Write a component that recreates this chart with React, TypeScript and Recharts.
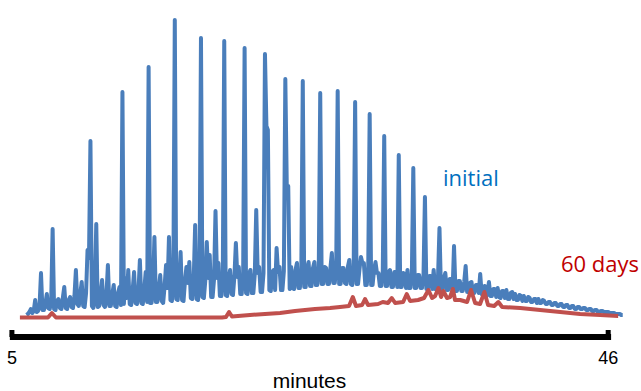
import { LineChart, Line, XAxis, YAxis, ReferenceLine } from 'recharts'

// chromatogram, initial run, sampled every 0.1 min from 6 min
const START = 6
const STEP = 0.1
const initialSignal = [
  3, 4, 6, 9, 5, 7, 18, 6, 7, 12, 45, 8, 8, 14, 24, 10, 9, 16, 89, 9,
  8, 17, 19, 10, 9, 20, 31, 10, 9, 18, 21, 11, 10, 22, 48, 14, 12, 24, 36, 12,
  11, 25, 68, 60, 177, 12, 10, 22, 94, 11, 12, 24, 38, 13, 11, 23, 53, 12, 12, 24,
  33, 12, 11, 25, 31, 13, 226, 14, 40, 20, 48, 14, 13, 27, 46, 15, 14, 26, 58, 15,
  14, 28, 46, 16, 251, 15, 15, 30, 81, 16, 16, 29, 43, 17, 15, 32, 53, 30, 81, 18,
  17, 34, 298, 19, 18, 36, 66, 18, 17, 37, 51, 35, 56, 20, 19, 38, 93, 19, 18, 36,
  280, 21, 20, 38, 76, 40, 63, 21, 21, 39, 107, 40, 55, 22, 22, 41, 277, 23, 22, 40,
  48, 24, 23, 42, 75, 41, 51, 24, 24, 43, 270, 25, 24, 44, 48, 25, 25, 44, 108, 45,
  51, 26, 26, 45, 264, 192, 188, 28, 27, 46, 48, 28, 70, 46, 51, 28, 28, 47, 239, 132,
  132, 29, 51, 30, 29, 48, 55, 30, 30, 49, 237, 31, 31, 50, 56, 32, 32, 50, 56, 33,
  33, 50, 225, 34, 34, 51, 50, 34, 34, 50, 65, 35, 35, 51, 227, 34, 34, 50, 50, 35,
  34, 51, 58, 34, 33, 50, 216, 34, 34, 49, 61, 55, 55, 33, 33, 49, 204, 33, 33, 48,
  56, 45, 45, 32, 32, 47, 182, 32, 32, 46, 48, 31, 31, 46, 46, 31, 163, 31, 31, 45,
  44, 30, 48, 30, 30, 44, 150, 30, 30, 43, 43, 30, 30, 42, 121, 29, 29, 42, 42, 29,
  48, 29, 29, 41, 90, 28, 28, 40, 45, 28, 28, 39, 39, 27, 72, 27, 27, 37, 37, 27,
  27, 36, 52, 26, 26, 35, 36, 25, 25, 33, 33, 25, 44, 24, 24, 32, 31, 23, 36, 22,
  22, 29, 29, 21, 30, 21, 20, 27, 27, 20, 28, 19, 19, 25, 26, 19, 24, 18, 18, 23,
  22, 17, 22, 17, 17, 21, 20, 16, 16, 19, 19, 15, 19, 15, 15, 18, 17, 14, 14, 16,
  16, 13, 13, 15, 15, 12, 12, 14, 14, 11, 11, 13, 13, 10, 10, 12, 12, 9, 9, 11,
  11, 9, 9, 10, 10, 8, 8, 9, 9, 7, 7, 8, 8, 6, 6, 7, 7, 6, 6, 6,
  6, 5, 5, 5, 5, 4, 4, 4, 4, 3, 3,
]

// after 60 days
const agedTimes = [
  5.55, 7.48, 7.75, 8.03, 11.05, 14.49, 19.45, 19.72, 19.93, 20.13,
  21.37, 22.4, 23.44, 24.47, 25.84, 26.88, 27.56, 28.18, 28.44, 28.66,
  29.08, 29.28, 29.49, 30.18, 30.5, 30.86, 31.12, 31.35, 31.9, 32.15,
  32.38, 32.93, 33.34, 33.64, 33.89, 34.1, 34.33, 34.51, 34.67, 34.92,
  35.13, 35.32, 35.47, 35.82, 36.3, 36.57, 36.85, 37.19, 37.49, 37.74,
  38.16, 38.45, 38.71, 39.95, 41.32, 42.7, 44.07, 45.45, 46.69,
]
const agedSignal = [
  0.5, 0.5, 5, 0.5, 0.5, 0.5, 0.5, 1, 6, 1.5,
  3, 4, 5, 7, 9, 10, 11, 12, 21, 12,
  13, 19, 13, 14, 16, 15, 20, 15, 16, 24,
  17, 18, 20, 28, 20, 22, 30, 21, 27, 20,
  21, 29, 18, 18, 16, 28, 15, 14, 26, 13,
  12, 16, 11, 10, 8, 6, 4, 3, 2,
]

const xTicks = [5, 46]

const initialData = initialSignal.map((v, i) => ({ t: +(START + i * STEP).toFixed(2), v }))
const agedData = agedTimes.map((t, i) => ({ t, v: agedSignal[i] }))

export default function App() {
  return (
    <div style={{ position: 'absolute', left: 0, top: 0 }}>
      <LineChart width={641} height={391}
                 margin={{ top: 18, right: 11, bottom: 0, left: 9 }}
                 style={{ fontFamily: '"Liberation Sans", Arial, sans-serif' }}
      >
        <XAxis type='number' dataKey='t' domain={[4.8, 47.5]} ticks={xTicks}
               axisLine={false} tickLine={false} height={48}
               tick={{ fontSize: 18, fill: '#000' }}/>
        <YAxis type='number' domain={[-25, 300]} hide/>
        <Line data={initialData} dataKey='v' type='linear' stroke='#4a7ebb' strokeWidth={4}
              strokeLinejoin='round' dot={false} isAnimationActive={false}/>
        <Line data={agedData} dataKey='v' type='linear' stroke='#c0504d' strokeWidth={4}
              strokeLinejoin='round' dot={false} isAnimationActive={false}/>
        <ReferenceLine segment={[{ x: 4.86, y: -19 }, { x: 46.2, y: -19 }]}
                       stroke='#000' strokeWidth={6} ifOverflow='visible'/>
        <ReferenceLine segment={[{ x: 5, y: -19 }, { x: 5, y: -12 }]}
                       stroke='#000' strokeWidth={5} ifOverflow='visible'/>
        <ReferenceLine segment={[{ x: 46, y: -19 }, { x: 46, y: -12 }]}
                       stroke='#000' strokeWidth={5} ifOverflow='visible'/>
        <text x={443} y={186} fontSize={22} fill='#0070c0'
              style={{ fontFamily: '"Open Sans", sans-serif' }}>initial</text>
        <text x={561} y={272} fontSize={22} fill='#c00000'
              style={{ fontFamily: '"Open Sans", sans-serif' }}>60 days</text>
        <text x={309.5} y={388} fontSize={21} fill='#000' textAnchor='middle'>minutes</text>
      </LineChart>
    </div>
  )
}
